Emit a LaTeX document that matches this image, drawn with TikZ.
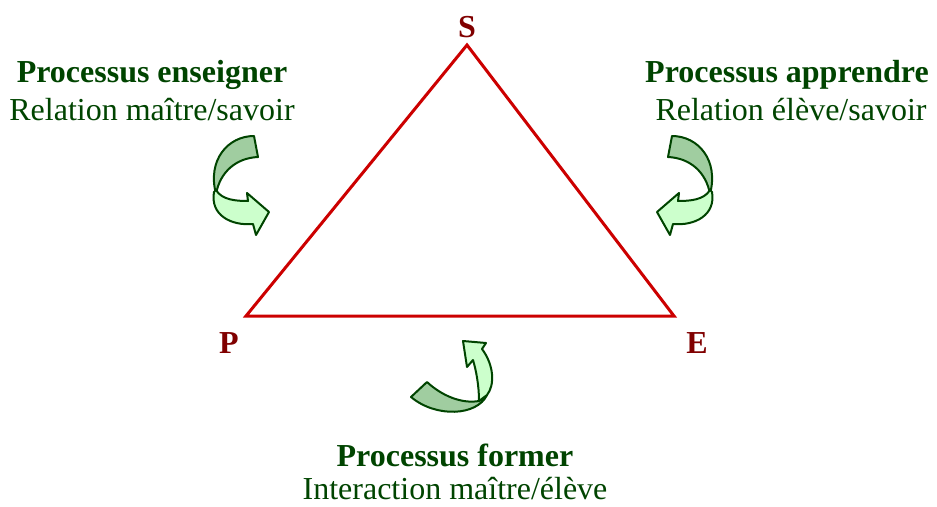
\documentclass[tikz,border=0pt]{standalone}
\usepackage{fontspec}
\setmainfont{Liberation Serif}
\definecolor{dgreen}{RGB}{0,68,0}
\definecolor{dred}{RGB}{128,0,0}
\definecolor{trired}{RGB}{204,0,0}
\definecolor{bandback}{RGB}{160,205,160}
\definecolor{bandfront}{RGB}{204,255,204}
\tikzset{
  tri/.style={draw=trired, line width=3pt, line join=miter},
  corner/.style={text=dred, font=\fontsize{32}{36}\selectfont\bfseries, anchor=base, inner sep=0pt},
  ttl/.style={text=dgreen, font=\fontsize{32}{36}\selectfont\bfseries, anchor=base, inner sep=0pt},
  sub/.style={text=dgreen, font=\fontsize{32}{36}\selectfont, anchor=base, inner sep=0pt},
  back/.style={fill=bandback, draw=dgreen, line width=2pt, line join=round},
  front/.style={fill=bandfront, draw=dgreen, line width=2pt, line join=round}
}
\begin{document}
\begin{tikzpicture}[x=1pt,y=-1pt]
\useasboundingbox (0,0) rectangle (937,506);
% triangle
\coordinate (tS) at (467,45);
\coordinate (tP) at (246,316);
\coordinate (tE) at (674,316);
\draw[tri] (tS) -- (tP) -- (tE) -- cycle;
% corner labels
\node[corner] (S) at (467,37) {S};
\node[corner] (P) at (229,353) {P};
\node[corner] (E) at (697,353) {E};
% texts
\node[ttl] (t1) at (152,82) {Processus enseigner};
\node[sub] (s1) at (152,120) {Relation maître/savoir};
\node[ttl] (t2) at (787,82) {Processus apprendre};
\node[sub] (s2) at (791,120) {Relation élève/savoir};
\node[ttl] (t3) at (455,466) {Processus former};
\node[sub] (s3) at (455,499) {Interaction maître/élève};
% left curved arrow
\path[back] (254,136) .. controls (228,136) and (207,160) .. (216,194)
  .. controls (220,172) and (236,158) .. (258,157) -- cycle;
\path[front] (216,190) .. controls (222,200) and (236,201) .. (248,201)
  -- (247,193) -- (269,212) -- (256,235) -- (253,224)
  .. controls (231,226) and (210,215) .. (214,192) -- cycle;
% right curved arrow (mirror)
\begin{scope}[xshift=926, xscale=-1]
\path[back] (254,136) .. controls (228,136) and (207,160) .. (216,194)
  .. controls (220,172) and (236,158) .. (258,157) -- cycle;
\path[front] (216,190) .. controls (222,200) and (236,201) .. (248,201)
  -- (247,193) -- (269,212) -- (256,235) -- (253,224)
  .. controls (231,226) and (210,215) .. (214,192) -- cycle;
\end{scope}
% bottom curved arrow
\path[back] (427,382) .. controls (442,396) and (462,404) .. (479,401)
  -- (487,395) .. controls (477,416) and (436,418) .. (411,397) -- cycle;
\path[front] (479,401) .. controls (479,385) and (476,370) .. (473,360)
  -- (467,367) -- (463,341) -- (486,343) -- (482,349)
  .. controls (494,365) and (495,385) .. (487,395) -- cycle;
\end{tikzpicture}
\end{document}
